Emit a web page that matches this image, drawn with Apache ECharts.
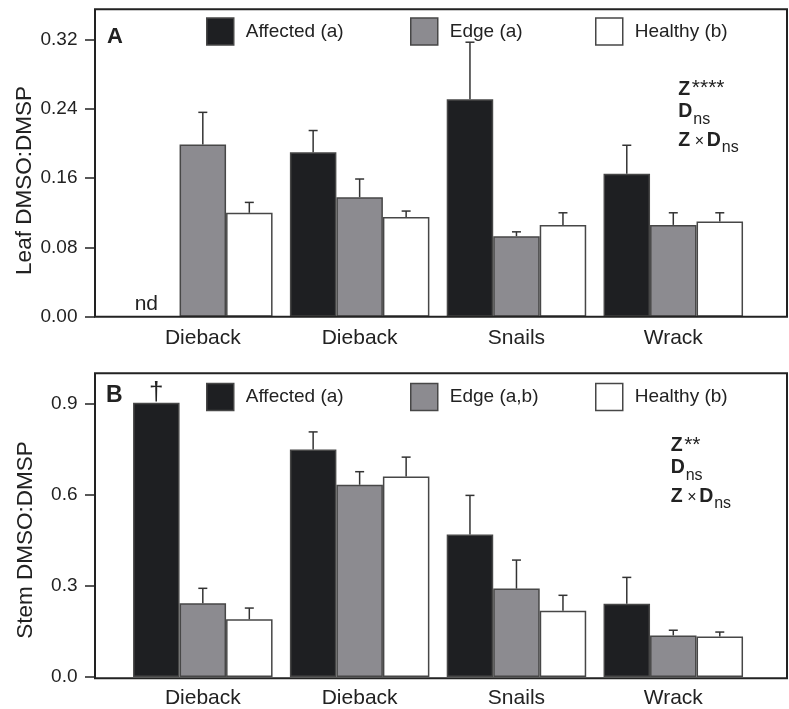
<!DOCTYPE html>
<html>
<head>
<meta charset="utf-8">
<script src="https://cdn.jsdelivr.net/npm/echarts@6/dist/echarts.min.js"></script>
<style>html,body{margin:0;padding:0;background:#fff}#c{width:789px;height:709px}</style>
</head>
<body>
<div id="c"></div>
<script>
// ---- data ----
const categories = ['Dieback', 'Dieback', 'Snails', 'Wrack'];

const leafTicks = [0, 0.08, 0.16, 0.24, 0.32];
const leafAffected = [null, 0.190, 0.251, 0.165];      // null = nd
const leafAffectedTop = [null, 0.215, 0.317, 0.198];
const leafEdge = [0.199, 0.138, 0.093, 0.106];
const leafEdgeTop = [0.236, 0.159, 0.098, 0.120];
const leafHealthy = [0.120, 0.115, 0.106, 0.110];
const leafHealthyTop = [0.132, 0.122, 0.120, 0.120];

const stemTicks = [0, 0.3, 0.6, 0.9];
const stemAffected = [0.903, 0.749, 0.469, 0.241];
const stemAffectedTop = [null, 0.807, 0.598, 0.328];
const stemAffectedMarks = ['†', '', '', ''];
const stemEdge = [0.243, 0.633, 0.291, 0.137];
const stemEdgeTop = [0.292, 0.676, 0.385, 0.154];
const stemHealthy = [0.190, 0.660, 0.218, 0.133];
const stemHealthyTop = [0.227, 0.724, 0.269, 0.148];

const leafNames = ['Affected (a)', 'Edge (a)', 'Healthy (b)'];
const stemNames = ['Affected (a)', 'Edge (a,b)', 'Healthy (b)'];

// ---- style ----
const FONT = 'Liberation Sans, Arial, Helvetica, sans-serif';
const TXT = '#222';
const COLORS = ['#1e1f22', '#8c8b90', '#ffffff'];
const BAR_W = 46.5;
const FRAME_L = 95, FRAME_R = 787;
const GRID_L = 124.4, GRID_W = 627.3;
const panels = [
  {top: 9.3, height: 307.4, max: 0.355, ticks: leafTicks, dec: 2},
  {top: 373.3, height: 305, max: 1.0, ticks: stemTicks, dec: 1}
];

const chart = echarts.init(document.getElementById('c'), null, {renderer: 'canvas'});

const grids = panels.map(p => ({left: GRID_L, width: GRID_W, top: p.top, height: p.height, containLabel: false}));
const xAxes = panels.map((p, k) => ({
  type: 'category', gridIndex: k, data: categories,
  axisLine: {show: false}, axisTick: {show: false},
  axisLabel: {interval: 0, fontSize: 21, fontFamily: FONT, color: TXT, margin: 11}
}));
const yAxes = panels.map((p, k) => ({
  type: 'value', gridIndex: k, min: 0, max: p.max, offset: GRID_L - FRAME_L,
  splitLine: {show: false},
  axisLine: {show: false},
  axisTick: {show: true, length: 10, lineStyle: {color: TXT, width: 1.5}, customValues: p.ticks},
  axisLabel: {fontSize: 19, fontFamily: FONT, color: TXT, margin: 17.5, customValues: p.ticks,
              formatter: v => v.toFixed(p.dec)}
}));

function barSeries(name, values, colorIdx, gi, extra) {
  return {
    type: 'bar', name: name, xAxisIndex: gi, yAxisIndex: gi,
    barWidth: BAR_W, barGap: '0%',
    itemStyle: {color: COLORS[colorIdx], borderColor: '#474747', borderWidth: 1.5},
    data: values.map((v, i) => extra ? extra(v, i) : v),
    z: 2
  };
}

function errSeries(gi, tops, vals) {
  const data = [];
  tops.forEach((arr, s) => arr.forEach((t, i) => {
    if (t !== null && vals[s][i] !== null) data.push([i, vals[s][i], t, s]);
  }));
  return {
    type: 'custom', xAxisIndex: gi, yAxisIndex: gi, z: 3, silent: true,
    encode: {x: 0, y: 2},
    data: data,
    renderItem: (params, api) => {
      const i = api.value(0), s = api.value(3);
      const base = api.coord([i, api.value(1)]);
      const top = api.coord([i, api.value(2)]);
      const x = base[0] + (s - 1) * BAR_W;
      const st = {stroke: '#333', lineWidth: 1.5};
      return {type: 'group', children: [
        {type: 'line', shape: {x1: x, y1: base[1], x2: x, y2: top[1]}, style: st},
        {type: 'line', shape: {x1: x - 4.5, y1: top[1], x2: x + 4.5, y2: top[1]}, style: st}
      ]};
    }
  };
}

const series = [
  barSeries(leafNames[0], leafAffected, 0, 0, (v) => v === null ? {
    value: 0, itemStyle: {borderWidth: 0},
    label: {show: true, position: 'top', formatter: 'nd', fontSize: 21, fontFamily: FONT, color: TXT, offset: [-10, 3]}
  } : v),
  barSeries(leafNames[1], leafEdge, 1, 0),
  barSeries(leafNames[2], leafHealthy, 2, 0),
  errSeries(0, [leafAffectedTop, leafEdgeTop, leafHealthyTop], [leafAffected, leafEdge, leafHealthy]),
  barSeries(stemNames[0], stemAffected, 0, 1, (v, i) => stemAffectedMarks[i] ? {
    value: v,
    label: {show: true, position: 'top', distance: -3, formatter: stemAffectedMarks[i], fontSize: 26, fontFamily: FONT, color: TXT, offset: [0, 0]}
  } : v),
  barSeries(stemNames[1], stemEdge, 1, 1),
  barSeries(stemNames[2], stemHealthy, 2, 1),
  errSeries(1, [stemAffectedTop, stemEdgeTop, stemHealthyTop], [stemAffected, stemEdge, stemHealthy])
];

// legends: one per entry, positioned
const legendLefts = [206, 410, 595];
const legendTops = [17.3, 382.7];
const legends = [];
[leafNames, stemNames].forEach((names, k) => names.forEach((n, j) => {
  legends.push({
    data: [n], left: legendLefts[j], top: legendTops[k], padding: 0,
    itemWidth: 27, itemHeight: 27, icon: 'rect', selectedMode: false,
    itemStyle: {borderColor: '#474747', borderWidth: 1.5},
    textStyle: {fontSize: 19, fontFamily: FONT, color: TXT, padding: [0, 0, 0, 7]}
  });
}));

function txt(x, y, text, size, bold, extra) {
  return Object.assign({
    type: 'text', x: x, y: y, z: 10,
    style: {text: text, fontSize: size, fontWeight: bold ? 'bold' : 'normal', fontFamily: FONT, fill: TXT,
            align: 'left', verticalAlign: 'middle'}
  }, extra || {});
}

const graphics = [];
panels.forEach(p => {
  graphics.push({type: 'rect', z: 9, shape: {x: FRAME_L, y: p.top, width: FRAME_R - FRAME_L, height: p.height},
                 style: {fill: 'none', stroke: '#222', lineWidth: 2}});
});
// axis titles
const titleStyle = t => ({text: t, fontSize: 22.5, fontFamily: FONT, fill: TXT, align: 'center', verticalAlign: 'middle'});
graphics.push({type: 'text', x: 24.5, y: 180.5, rotation: Math.PI / 2, z: 10, style: titleStyle('Leaf DMSO:DMSP')});
graphics.push({type: 'text', x: 26, y: 540, rotation: Math.PI / 2, z: 10, style: titleStyle('Stem DMSO:DMSP')});
// panel letters
graphics.push(txt(107, 36.5, 'A', 22, true));
graphics.push(txt(106, 396, 'B', 23, true));
// statistics annotations
function stats(x, y0, stars) {
  graphics.push(txt(x, y0, 'Z', 19.5, true));
  graphics.push(txt(x + 13.5, y0 - 0.5, stars, 21, false));
  graphics.push(txt(x, y0 + 22.5, 'D', 19.5, true));
  graphics.push(txt(x + 15, y0 + 30.5, 'ns', 16, false));
  graphics.push(txt(x, y0 + 51.3, 'Z', 19.5, true));
  graphics.push(txt(x + 16.5, y0 + 52.3, '×', 16, false));
  graphics.push(txt(x + 28.5, y0 + 51.3, 'D', 19.5, true));
  graphics.push(txt(x + 43.5, y0 + 58.5, 'ns', 16, false));
}
stats(678.3, 89.2, '****');
stats(670.7, 445.5, '**');

chart.setOption({
  animation: false,
  backgroundColor: '#fff',
  grid: grids, xAxis: xAxes, yAxis: yAxes,
  legend: legends,
  series: series,
  graphic: graphics
});
</script>
</body>
</html>
